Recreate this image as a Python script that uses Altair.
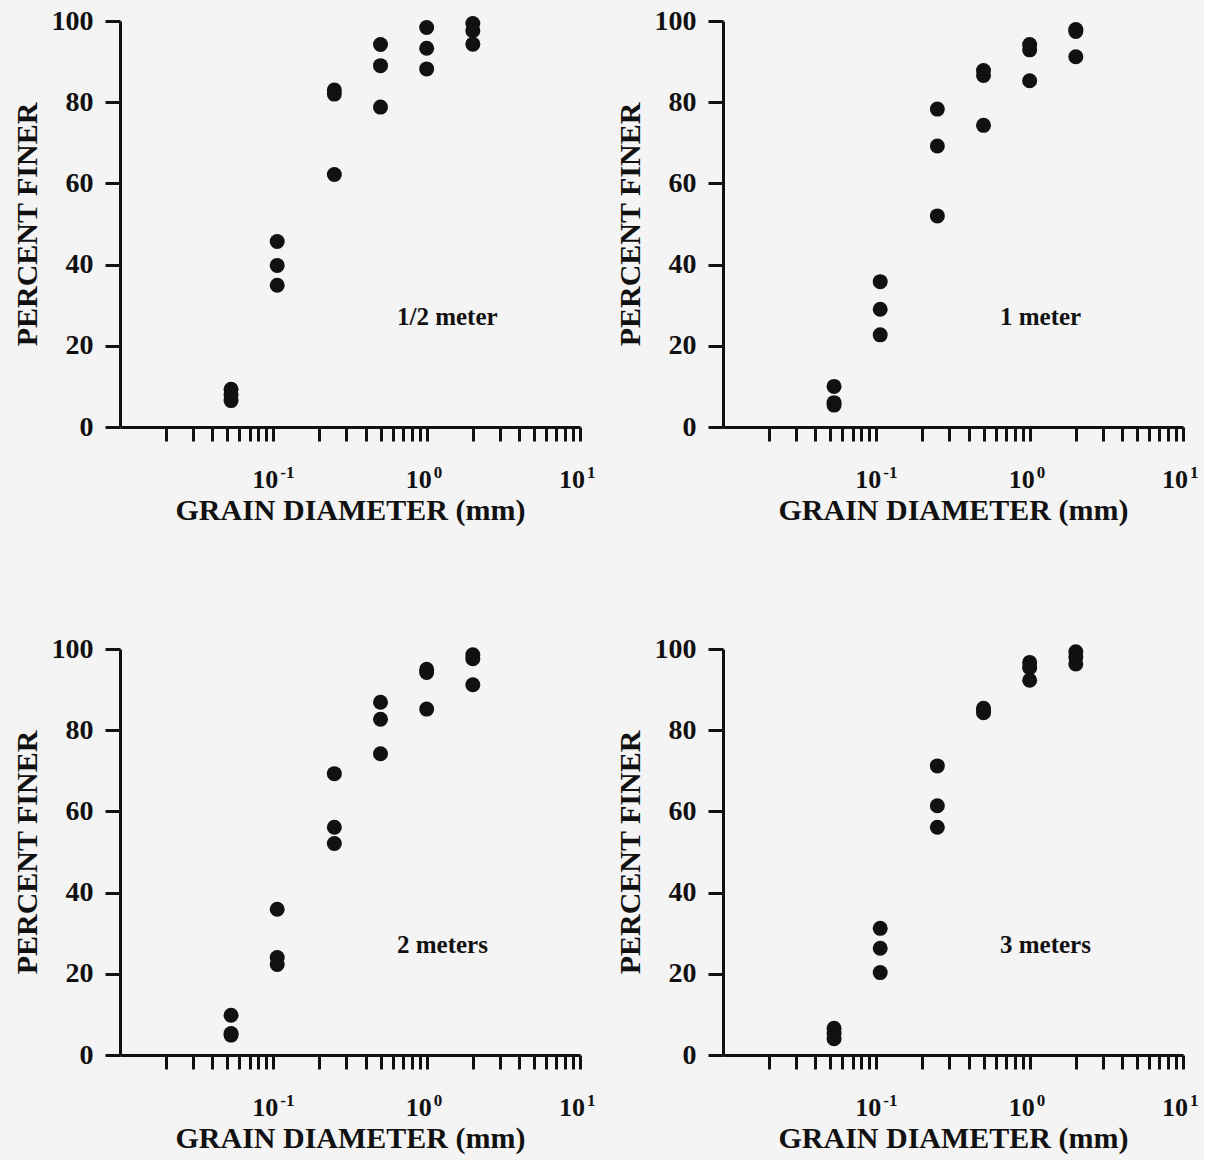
import altair as alt
import pandas as pd

FONT = "Liberation Serif"
INK = "#111111"

# Sieve openings (mm) at which each sample was weighed
SIEVE_MM = [0.053, 0.106, 0.25, 0.5, 1.0, 2.0]

# Percent finer, three samples per sieve opening, one list per depth
HALF_METER = [[9.3, 7.9, 6.5], [45.7, 39.8, 34.9], [83.0, 82.0, 62.2],
              [94.2, 89.0, 78.8], [98.4, 93.3, 88.2], [99.4, 97.6, 94.3]]
ONE_METER = [[10.0, 6.0, 5.4], [35.8, 29.0, 22.7], [78.3, 69.2, 52.0],
             [87.8, 86.6, 74.3], [94.2, 92.9, 85.3], [97.9, 97.4, 91.2]]
TWO_METERS = [[9.8, 5.3, 4.9], [35.9, 24.0, 22.3], [69.3, 56.1, 52.1],
              [86.9, 82.7, 74.2], [95.0, 94.2, 85.2], [98.6, 97.6, 91.2]]
THREE_METERS = [[6.6, 5.3, 4.0], [31.2, 26.3, 20.3], [71.2, 61.4, 56.1],
                [85.4, 84.8, 84.3], [96.7, 95.4, 92.3], [99.3, 98.0, 96.3]]

PANEL_LABELS = ["1/2 meter", "1 meter", "2 meters", "3 meters"]

# Axis ticks and decade labels
X_TICKS = [0.02, 0.03, 0.04, 0.05, 0.06, 0.07, 0.08, 0.09, 0.1,
           0.2, 0.3, 0.4, 0.5, 0.6, 0.7, 0.8, 0.9, 1.0,
           2, 3, 4, 5, 6, 7, 8, 9, 10]
Y_TICKS = [0, 20, 40, 60, 80, 100]
DECADES = [0.1, 1.0, 10.0]
DECADE_BASE = ["10", "10", "10"]
DECADE_EXP = ["-1", "0", "1"]

W, H = 460, 406


def panel(values, label):
    df = pd.DataFrame(
        [{"diameter": d, "percent": p} for d, row in zip(SIEVE_MM, values) for p in row]
    )
    xscale = alt.Scale(type="log", domain=[0.01, 10])
    yscale = alt.Scale(domain=[0, 100])

    points = alt.Chart(df).mark_circle(size=225, color=INK, opacity=1).encode(
        x=alt.X(
            "diameter:Q",
            scale=xscale,
            axis=alt.Axis(
                values=X_TICKS, labels=False, tickSize=14,
                title="GRAIN DIAMETER (mm)", titleFontSize=30,
                titleY=83, titleBaseline="middle",
            ),
        ),
        y=alt.Y(
            "percent:Q",
            scale=yscale,
            axis=alt.Axis(
                values=Y_TICKS, tickSize=15, labelPadding=12, labelFontSize=28,
                title="PERCENT FINER", titleFontSize=30, titleX=-93, titleY=H / 2,
                titleAngle=270, titleAlign="center", titleBaseline="middle",
            ),
        ),
    )

    # Decade labels drawn as "10" with a raised exponent
    decade_df = pd.DataFrame({"decade": DECADES, "base": DECADE_BASE, "exp": DECADE_EXP})
    base_text = alt.Chart(decade_df).mark_text(
        font=FONT, fontWeight="bold", fontSize=26, align="right", dx=5,
        baseline="alphabetic", color=INK,
    ).encode(
        x=alt.X("decade:Q", scale=xscale),
        y=alt.value(H + 61),
        text="base:N",
    )
    exp_text = alt.Chart(decade_df).mark_text(
        font=FONT, fontWeight="bold", fontSize=17, align="left", dx=7,
        baseline="alphabetic", color=INK,
    ).encode(
        x=alt.X("decade:Q", scale=xscale),
        y=alt.value(H + 51),
        text="exp:N",
    )
    tag = alt.Chart(pd.DataFrame({"t": [label]})).mark_text(
        font=FONT, fontWeight="bold", fontSize=25, align="left",
        baseline="middle", color=INK,
    ).encode(x=alt.value(277), y=alt.value(296), text="t:N")

    return alt.layer(points, base_text, exp_text, tag).properties(width=W, height=H)


panels = [
    panel(HALF_METER, PANEL_LABELS[0]),
    panel(ONE_METER, PANEL_LABELS[1]),
    panel(TWO_METERS, PANEL_LABELS[2]),
    panel(THREE_METERS, PANEL_LABELS[3]),
]

chart = (
    alt.concat(*panels, columns=2, spacing={"row": 222, "column": 143}, bounds="flush")
    .properties(background="#f4f4f4", padding={"left": 12, "top": 7, "right": 5, "bottom": 12})
    .configure_axis(
        grid=False,
        domainColor=INK, domainWidth=3,
        tickColor=INK, tickWidth=3,
        labelFont=FONT, labelFontWeight="bold", labelColor=INK,
        titleFont=FONT, titleFontWeight="bold", titleColor=INK,
    )
    .configure_view(strokeWidth=0)
)

chart.save("out.html", embed_options={"renderer": "svg", "actions": False})
